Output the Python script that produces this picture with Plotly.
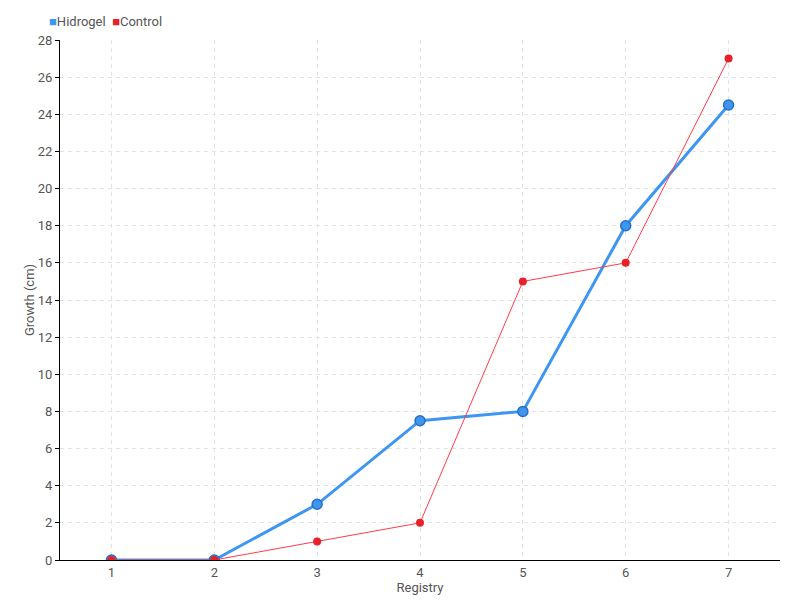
import plotly.graph_objects as go

registry = [1, 2, 3, 4, 5, 6, 7]
hidrogel = [0, 0, 3, 7.5, 8, 18, 24.5]
control = [0, 0, 1, 2, 15, 16, 27]
y_ticks = list(range(0, 29, 2))

BLUE = "#3d96f0"
RED = "#e8202a"
FONT = "Liberation Sans Narrow, Roboto, sans-serif"
GRAY = "#555555"

fig = go.Figure()
fig.add_trace(go.Scatter(
    x=registry, y=hidrogel, mode="lines+markers", name="Hidrogel", showlegend=False,
    line=dict(color=BLUE, width=3),
    marker=dict(color=BLUE, size=10, line=dict(color="#2a6fc0", width=1.5)),
))
fig.add_trace(go.Scatter(
    x=registry, y=control, mode="lines+markers", name="Control", showlegend=False,
    line=dict(color="#ff3b4a", width=1),
    marker=dict(color=RED, size=8),
))

fig.add_annotation(
    xref="paper", yref="paper", x=-0.018, y=1.0, yshift=19, xanchor="left", yanchor="middle",
    showarrow=False, align="left",
    text=(f"<span style='color:{BLUE}'>■</span>Hidrogel&nbsp;&nbsp;"
          f"<span style='color:{RED}'>■</span>Control"),
    font=dict(family=FONT, size=13, color=GRAY),
)

axis_common = dict(
    showgrid=True, gridcolor="#e3e3e3", griddash="4px,4px", gridwidth=1,
    showline=True, linecolor="black", linewidth=1,
    zeroline=False, automargin=False,
    tickfont=dict(family=FONT, size=13, color=GRAY),
)

fig.update_layout(
    width=800, height=600,
    margin=dict(l=52, r=28, t=32, b=48),
    paper_bgcolor="white", plot_bgcolor="white",
    font=dict(family=FONT, size=13, color=GRAY),
    showlegend=False,
    xaxis=dict(
        range=[0.5, 7.5], tickvals=registry, ticks="",
        title=dict(text="Registry", standoff=0, font=dict(size=13, color=GRAY)),
        **axis_common,
    ),
    yaxis=dict(
        range=[0, 28], tickvals=y_ticks,
        ticks="outside", ticklen=4, tickcolor="black",
        title=dict(text="Growth (cm)", standoff=0, font=dict(size=13, color=GRAY)),
        **axis_common,
    ),
)

fig.write_html("out.html")
